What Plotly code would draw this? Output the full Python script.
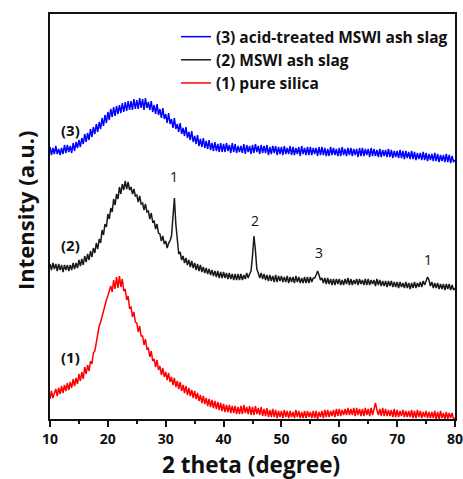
import numpy as np
import plotly.graph_objects as go

# 2-theta grid (10 to 80 degrees, 0.25 degree step)
two_theta = np.linspace(10, 80, 281)

# (3) acid-treated MSWI ash slag (offset intensity, a.u.)
acid_treated = [
    272,264,271,265, 273,265,270,264, 271,265,274,266, 274,267,273,266,
    276,268,277,271, 279,272,281,275, 285,277,286,279, 290,282,292,285,
    295,287,297,290, 301,293,304,296, 307,299,310,302, 312,303,313,305,
    314,306,316,307, 317,308,318,309, 318,309,320,310, 319,310,321,311,
    320,309,321,311, 317,309,318,307, 314,305,315,304, 310,301,311,300,
    305,296,306,295, 300,291,301,290, 295,287,296,285, 291,283,292,281,
    287,279,288,277, 283,275,284,273, 280,272,281,271, 278,270,279,269,
    276,268,277,268, 275,267,276,267, 275,267,276,268, 274,266,276,267,
    275,266,273,267, 273,266,275,265, 274,267,273,265, 274,266,275,267,
    273,265,274,266, 273,266,274,264, 272,265,273,266, 273,264,272,265,
    272,264,273,265, 271,265,273,264, 272,264,271,265, 272,263,273,265,
    271,264,272,264, 272,264,271,265, 271,263,272,264, 272,264,271,263,
    270,263,272,264, 271,264,270,263, 271,263,272,264, 270,263,271,264,
    271,263,270,264, 270,262,271,263, 271,263,270,264, 270,262,271,263,
    270,263,269,262, 270,262,269,263, 269,262,270,262, 269,261,268,262,
    268,261,269,261, 268,260,268,261, 267,260,268,260, 267,259,266,260,
    266,259,267,259, 266,258,265,259, 265,258,266,258, 265,257,264,258,
    264,257,265,257, 264,256,263,257, 259,
]

# (2) MSWI ash slag
ash_slag = [
    155,149,156,150, 155,148,155,149, 154,147,154,149, 154,148,154,149,
    156,150,156,151, 159,153,160,154, 163,157,165,159, 168,162,171,166,
    176,170,180,176, 189,184,195,192, 205,200,211,207, 220,214,225,220,
    232,225,235,229, 238,230,237,229, 232,225,230,223, 224,217,223,215,
    216,209,215,207, 208,200,206,197, 198,190,195,186, 185,178,183,175,
    178,171,176,178, 183,203,221,195, 175,165,167,159, 163,156,161,154,
    159,152,158,151, 156,149,155,148, 154,147,152,146, 151,145,150,144,
    149,143,148,142, 148,141,147,141, 147,141,146,140, 146,140,145,139,
    145,139,145,139, 145,139,144,140, 146,141,145,148, 163,183,169,150,
    146,141,146,140, 145,139,144,138, 144,138,143,137, 144,137,143,138,
    143,137,142,137, 143,136,142,137, 142,136,143,137, 142,136,141,136,
    142,136,142,136, 142,137,141,141, 144,148,144,139, 141,136,141,135,
    141,135,140,134, 140,134,140,135, 140,134,139,134, 140,135,141,134,
    140,134,139,135, 140,134,140,135, 139,134,140,134, 140,134,139,135,
    139,133,140,134, 139,133,138,133, 138,132,138,133, 138,132,137,132,
    137,131,137,132, 136,131,137,131, 136,130,136,131, 137,131,136,132,
    137,132,138,134, 138,142,139,133, 137,131,136,131, 136,130,135,130,
    135,129,135,130, 135,129,134,129, 131,
]

# (1) pure silica
pure_silica = [
    20,28,21,27, 30,23,31,25, 33,26,34,28, 36,29,37,31,
    40,33,41,35, 45,38,47,40, 52,45,54,48, 58,55,66,68,
    78,86,93,97, 103,110,114,119, 123,128,133,127, 139,130,142,131,
    143,132,140,128, 130,119,123,111, 112,102,107,97, 96,87,93,83,
    83,74,80,70, 71,62,68,58, 60,52,59,49, 53,44,51,42,
    47,39,46,37, 42,34,41,32, 38,30,37,28, 34,26,33,24,
    31,23,29,21, 28,20,26,18, 24,16,23,15, 21,13,20,12,
    19,11,18,10, 17,9,16,8, 15,7,14,7, 14,6,13,6,
    13,5,12,5, 13,5,14,6, 12,5,13,4, 12,4,13,5,
    11,4,12,3, 10,3,11,2, 9,2,10,2, 9,1,8,2,
    8,1,9,2, 8,1,8,2, 7,1,9,2, 8,1,7,1,
    8,1,8,2, 7,1,8,1, 8,0,7,2, 8,1,9,2,
    9,2,8,3, 9,2,10,3, 10,3,9,4, 10,4,11,4,
    10,4,11,3, 11,4,10,3, 10,3,11,4, 10,3,11,4,
    11,16,9,4, 10,3,11,3, 10,3,9,3, 9,2,10,2,
    9,2,8,3, 9,2,8,2, 8,2,9,1, 8,1,9,2,
    8,1,7,2, 8,1,7,1, 7,1,8,0, 7,0,8,1,
    6,0,7,0, 6,1,6,0, 1,
]

series_names = ["(3) acid-treated MSWI ash slag", "(2) MSWI ash slag", "(1) pure silica"]
series_colors = ["#0000ff", "#1a1a1a", "#ff0000"]

curve_labels = ["(3)", "(2)", "(1)"]
curve_label_x = [13.5, 13.5, 13.5]
curve_label_y = [289, 174, 62]

peak_labels = ["1", "2", "3", "1"]
peak_x = [31.4, 45.4, 56.5, 75.3]
peak_y = [243, 199, 167, 160]

FONT = "Open Sans"
INK = "#111111"

fig = go.Figure()
for name, color, vals in zip(series_names, series_colors, [acid_treated, ash_slag, pure_silica]):
    fig.add_trace(go.Scatter(x=two_theta, y=vals, mode="lines", name=name,
                             line=dict(color=color, width=1.5)))

for t, x, y in zip(curve_labels, curve_label_x, curve_label_y):
    fig.add_annotation(x=x, y=y, text="<b>%s</b>" % t, showarrow=False,
                       xanchor="center", yanchor="middle",
                       font=dict(size=15, color=INK, family=FONT))
for t, x, y in zip(peak_labels, peak_x, peak_y):
    fig.add_annotation(x=x, y=y, text=t, showarrow=False,
                       xanchor="center", yanchor="middle",
                       font=dict(size=14, color=INK, family=FONT))

# axis titles placed as paper annotations
fig.add_annotation(xref="paper", yref="paper", x=0.4975, y=-0.1123,
                   xanchor="center", yanchor="middle", borderpad=0,
                   text="<b>2 theta (degree)</b>", showarrow=False,
                   font=dict(size=22.5, color=INK, family=FONT))
fig.add_annotation(xref="paper", yref="paper", x=-0.0617, y=0.5136,
                   xanchor="center", yanchor="middle",
                   text="<b>Intensity (a.u.)</b>", showarrow=False, textangle=-90,
                   font=dict(size=22, color=INK, family=FONT))

fig.update_layout(
    width=463, height=479,
    margin=dict(l=50, r=8, t=14, b=60, autoexpand=False),
    plot_bgcolor="white", paper_bgcolor="white",
    font=dict(family=FONT, color=INK),
    showlegend=True,
    legend=dict(x=0.995, xanchor="right", y=0.985, yanchor="top",
                bgcolor="rgba(0,0,0,0)", borderwidth=0,
                font=dict(size=15.5, family=FONT, color=INK, weight="bold"),
                itemwidth=30, tracegroupgap=0),
    xaxis=dict(range=[10, 80], dtick=10, tick0=10, ticks="outside", ticklen=6,
               tickwidth=1.5, tickcolor=INK, showline=True, linecolor=INK,
               linewidth=1.5, mirror=True, showgrid=False, zeroline=False,
               automargin=False, ticklabeloverflow="allow",
               tickfont=dict(size=14, family=FONT, weight="bold"),
               minor=dict(dtick=5, ticks="outside", ticklen=3, tickwidth=1.5, tickcolor=INK)),
    yaxis=dict(range=[0, 405], showticklabels=False, ticks="", showline=True,
               linecolor=INK, linewidth=1.5, mirror=True, showgrid=False, zeroline=False,
               automargin=False),
)

fig.write_html("out.html", config={"displayModeBar": False},
               post_script="document.body.style.margin='0';")
